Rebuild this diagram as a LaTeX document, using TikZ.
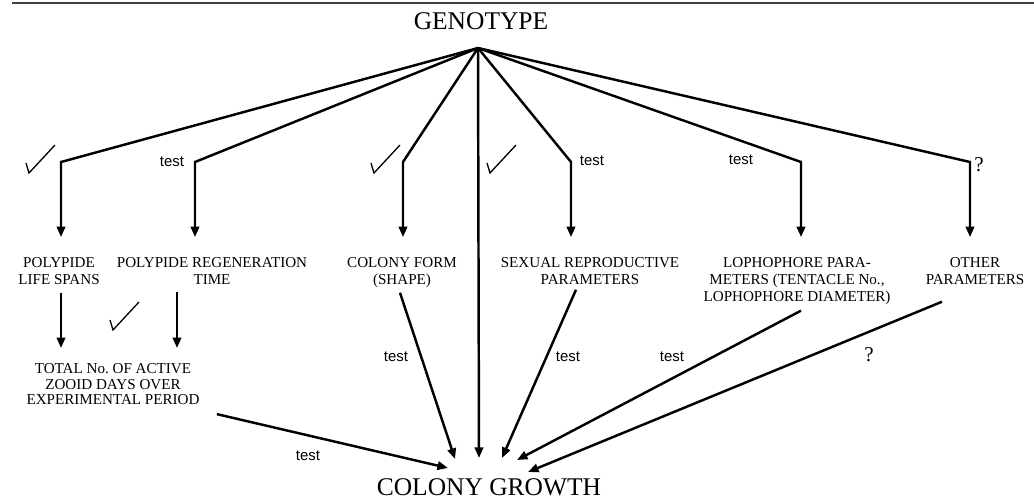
\documentclass[tikz,border=0pt]{standalone}
\usepackage{fontspec}
\setmainfont{Liberation Serif}
\newfontfamily\sanslabel{Liberation Sans}
\usetikzlibrary{arrows.meta,calc}

\tikzset{
  big/.style={font=\fontsize{14.5}{16}\selectfont,inner sep=0pt},
  trait/.style={font=\fontsize{8.6}{9.6}\selectfont,align=center,inner sep=0pt,anchor=north},
  testlbl/.style={font=\sanslabel\fontsize{8.5}{10}\selectfont,inner sep=0pt},
  qlbl/.style={font=\fontsize{12}{14}\selectfont,inner sep=0pt},
  link/.style={line width=1.4pt,-{Triangle[length=6pt,width=4.8pt]}},
  pics/tick/.style={code={\draw[line width=0.75pt] (0,0) -- (3,10) -- (29,-18);}}
}

\begin{document}
\begin{tikzpicture}[x=0.02cm,y=-0.02cm]
\useasboundingbox (0,0) rectangle (1034,501);
\draw[black!75,line width=1.2pt] (12,3) -- (1034,3);

\node[big] (geno) at (481,21) {GENOTYPE};
\node[big] (growth) at (489,487) {COLONY GROWTH};
\coordinate (apex) at (478,48);

\node[trait] (life) at (59,257) {POLYPIDE\\LIFE SPANS};
\node[trait] (regen) at (212,257) {POLYPIDE REGENERATION\\TIME};
\node[trait] (form) at (402,257) {COLONY FORM\\(SHAPE)};
\node[trait] (sexual) at (590,257) {SEXUAL REPRODUCTIVE\\PARAMETERS};
\node[trait] (lopho) at (797,257) {LOPHOPHORE PARA-\\METERS (TENTACLE No.,\\LOPHOPHORE DIAMETER)};
\node[trait] (other) at (975,257) {OTHER\\PARAMETERS};
\node[trait,font=\fontsize{8.6}{8.9}\selectfont] (total) at (113,363) {TOTAL No.\ OF ACTIVE\\ZOOID DAYS OVER\\EXPERIMENTAL PERIOD};

\coordinate (c1) at (61,162); \coordinate (c2) at (195,162); \coordinate (c3) at (403,162);
\coordinate (c5) at (571,162); \coordinate (c6) at (801,162); \coordinate (c7) at (970,162);
\foreach \c/\n in {c1/life,c2/regen,c3/form,c5/sexual,c6/lopho,c7/other}
  \draw[link,shorten >=11.3pt] (apex) -- (\c) -- (\c |- \n.north);

\coordinate (gTotal) at (448,468); \coordinate (gForm) at (455,459); \coordinate (gMid) at (479,458);
\coordinate (gSex) at (502,458); \coordinate (gLoph) at (517,460); \coordinate (gOther) at (528,472);

\draw[link] (apex) -- (gMid);
\draw[link,shorten <=4.5pt,shorten >=8.5pt] (life.south -| c1) -- (c1 |- total.north);
\draw[link,shorten <=4.5pt,shorten >=8.5pt] ($(regen.south)+(-35,0)$) coordinate (r0) -- (r0 |- total.north);
\draw[link] ($(total.south east)+(17,9)$) -- (gTotal);
\draw[link] ($(form.south)+(-2,5)$) -- (gForm);
\draw[link] ($(sexual.south)+(-14,5)$) -- (gSex);
\draw[link] ($(lopho.south)+(4,6)$) -- (gLoph);
\draw[link] ($(other.south)+(-33,17)$) -- (gOther);

\node[testlbl] (t2) at (172,162) {test};
\node[testlbl] (t5) at (592,161) {test};
\node[testlbl] (t6) at (741,160) {test};
\node[qlbl] (q7) at (979,165) {?};
\node[testlbl] (tForm) at (396,357) {test};
\node[testlbl] (tSex) at (568,357) {test};
\node[testlbl] (tLoph) at (672,357) {test};
\node[qlbl] (qOther) at (869,355) {?};
\node[testlbl] (tTotal) at (308,456) {test};

\pic at (26,163) {tick};
\pic at (371,163) {tick};
\pic at (487,163) {tick};
\pic at (110,320) {tick};
\end{tikzpicture}
\end{document}
